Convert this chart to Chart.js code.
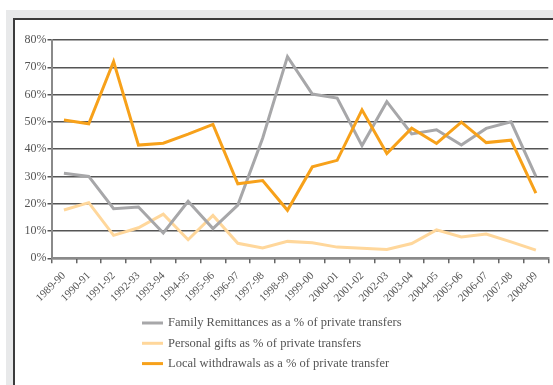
<!DOCTYPE html>
<html lang="en">
  <head>
    <meta charset="UTF-8" />
    <script src="https://cdn.jsdelivr.net/npm/chart.js@4.4.0/dist/chart.umd.min.js"></script>
    <title>Private transfers</title>
    <style>
      body { margin: 0; background: #fff; }
      #frame { position: absolute; left: 6px; top: 10px; right: 0; bottom: 0; background: #e8e9ea; }
      #panel { position: absolute; left: 13px; top: 18px; width: 560px; height: 400px; background: #fff; border: 2px solid #3c3c3c; }
      #wrap { position: absolute; left: 0; top: 0; width: 553px; height: 385px; }
    </style>
  </head>
  <body>
    <div id="frame"></div>
    <div id="panel"></div>
    <div id="wrap">
      <canvas id="myChart" width="553" height="385"></canvas>
    </div>
    <script>
      const years = [
        "1989-90", "1990-91", "1991-92", "1992-93", "1993-94", "1994-95", "1995-96",
        "1996-97", "1997-98", "1998-99", "1999-00", "2000-01", "2001-02", "2002-03",
        "2003-04", "2004-05", "2005-06", "2006-07", "2007-08", "2008-09",
      ];
      const familyRemit = [31.2, 30.0, 18.2, 18.8, 9.3, 20.9, 10.9, 19.5, 44.0, 73.9,
        60.2, 58.7, 41.3, 57.4, 45.6, 47.1, 41.5, 47.6, 50.0, 30.0];
      const personalGifts = [17.7, 20.4, 8.4, 11.2, 16.2, 6.8, 15.7, 5.5, 3.8, 6.2,
        5.7, 4.1, 3.7, 3.2, 5.4, 10.4, 7.8, 8.9, 6.0, 3.0];
      const localWithdrawals = [50.7, 49.3, 72.1, 41.5, 42.2, 45.5, 49.1, 27.3, 28.5, 17.6,
        33.5, 35.9, 54.4, 38.4, 47.7, 42.1, 49.9, 42.4, 43.3, 23.9];
      const seriesNames = [
        "Family Remittances as a % of private transfers",
        "Personal gifts as % of private transfers",
        "Local withdrawals as a % of private transfer",
      ];

      const serif = "'Liberation Serif', 'DejaVu Serif', serif";

      // legend drawn by hand: one column, left aligned
      const columnLegend = {
        id: "columnLegend",
        afterDraw(chart) {
          const ctx = chart.ctx;
          ctx.save();
          ctx.font = "12.5px " + serif;
          ctx.textBaseline = "middle";
          chart.data.datasets.forEach((ds, i) => {
            const y = 323 + i * 20.3;
            ctx.strokeStyle = ds.borderColor;
            ctx.lineWidth = 3;
            ctx.beginPath();
            ctx.moveTo(142, y);
            ctx.lineTo(163, y);
            ctx.stroke();
            ctx.fillStyle = "#555";
            ctx.fillText(ds.label, 168, y);
          });
          ctx.restore();
        },
      };

      const ctx = document.getElementById("myChart");
      new Chart(ctx, {
        type: "line",
        data: {
          labels: years,
          datasets: [
            { label: seriesNames[0], data: familyRemit, borderColor: "#a7a7a9", order: 2 },
            { label: seriesNames[1], data: personalGifts, borderColor: "#ffd79b", order: 3 },
            { label: seriesNames[2], data: localWithdrawals, borderColor: "#f7a11a", order: 1 },
          ],
        },
        options: {
          responsive: false,
          animation: false,
          layout: { padding: { top: 40, right: 4.7, left: 0, bottom: 0 } },
          elements: {
            line: { borderWidth: 3, tension: 0, fill: false },
            point: { radius: 0 },
          },
          scales: {
            x: {
              offset: true,
              afterFit: (s) => { s.height = 126.7; },
              grid: { offset: true, drawOnChartArea: false, tickLength: 5, color: "#666", lineWidth: 1.5 },
              border: { color: "#8a8a8a", width: 2 },
              ticks: {
                minRotation: 45, maxRotation: 45, autoSkip: false, padding: 6,
                color: "#555", font: { family: serif, size: 11 },
              },
            },
            y: {
              min: 0, max: 80,
              afterFit: (s) => { s.width = 51.5; },
              grid: { tickLength: 4, color: "#555", lineWidth: 1.5 },
              border: { color: "#8a8a8a", width: 2 },
              ticks: {
                stepSize: 10, padding: 1, color: "#555",
                font: { family: serif, size: 12 },
                callback: (v) => v + "%",
              },
            },
          },
          plugins: {
            legend: { display: false },
            tooltip: { enabled: false },
          },
        },
        plugins: [columnLegend],
      });
    </script>
  </body>
</html>
